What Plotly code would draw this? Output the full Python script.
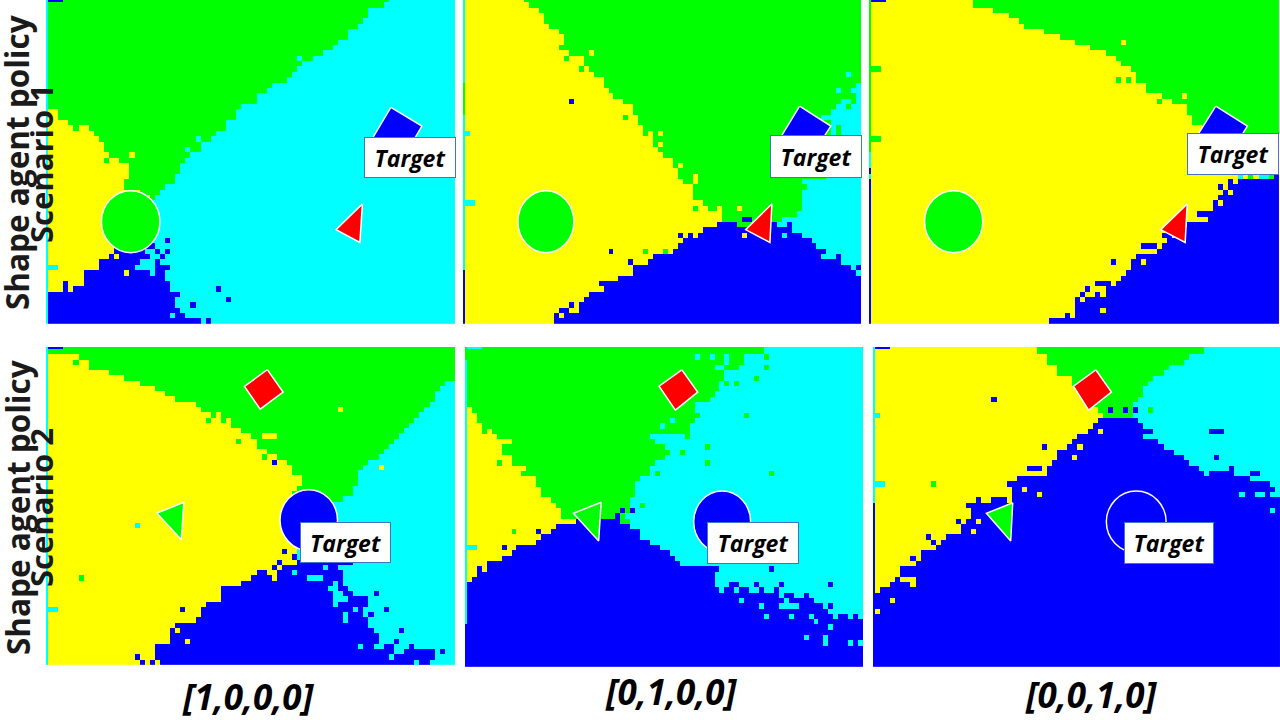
import numpy as np
import plotly.graph_objects as go

# cell classes of the policy maps
CLASS_CODES = {"G": 0, "Y": 1, "C": 2, "B": 3}
CLASS_COLORS = ["#00FF00", "#FFFF00", "#00FFFF", "#0000FF"]

# every row: letter + column where the run ends, last run goes to the edge
# first entry is the thin row cropped at the top of the panel
P1_ROWS = ["B3 G67 C", "G66 C", "G64 C", "G63 C", "G62 C", "G61 C", "G59 C", "G59 C", "G57 C", "G56 C",
           "G54 C", "G52 C", "G50 C", "G49 C", "G48 C", "G47 C", "G44 C", "G42 C", "G41 C", "G41 C",
           "G38 C", "Y2 G38 C", "Y2 G37 C", "Y4 G35 C", "Y8 G34 C", "Y9 G33 C", "Y10 G32 C", "Y11 G30 C", "Y13 G30 C", "Y12 G28 C",
           "Y14 G27 C", "Y16 G26 C", "Y16 G26 C", "Y16 G25 C", "Y15 G25 C", "Y15 G23 C", "Y18 G22 C", "Y20 G21 C", "Y20 C", "Y14 C",
           "Y14 C", "Y14 C", "Y14 C", "Y14 C", "Y14 C", "Y14 C", "Y13 B21 C", "Y13 B20 C", "Y12 B21 C", "Y10 B18 C",
           "Y10 B17 C", "Y7 B20 C", "Y7 B23 C", "Y3 B4 Y7 B24 C", "Y3 B4 Y5 B24 C", "B25 C", "B25 C", "B25 C", "B26 C", "B27 C",
           "B30 C"]
P1_STRIP = "C"
P1_SPECKS = [(44, 23, "B"), (46, 23, "B"), (46, 21, "B"), (46, 19, "C"), (47, 20, "C"), (47, 22, "B"), (48, 21, "B"),
             (49, 21, "B"), (49, 22, "B"), (49, 23, "B"), (50, 21, "B"), (50, 22, "B"), (53, 33, "B"), (55, 35, "B"),
             (56, 28, "B"), (59, 31, "B"), (50, 15, "Y"), (47, 13, "Y"), (28, 16, "Y"), (29, 11, "G"), (27, 11, "G"),
             (27, 12, "G"), (23, 5, "G"), (10, 49, "C"), (20, 37, "C"), (23, 34, "G"), (25, 29, "C"), (27, 27, "C"),
             (49, 0, "C"), (49, 1, "C"), (58, 24, "C"), (53, 24, "C"), (54, 25, "B"), (1, 63, "C"), (16, 42, "G")]

P2_ROWS = ["Y12 G", "Y13 G", "Y15 G", "Y16 G", "Y16 G", "Y17 G", "Y19 G", "Y20 G", "Y20 G", "Y20 G",
           "Y21 G", "Y24 G", "Y24 G", "Y25 G", "Y26 G", "Y27 G", "Y28 G79 C", "Y29 G78 C", "Y30 G79 C", "Y32 G76 C78 G79 C",
           "Y34 G75 C77 G78 C", "Y34 G74 C", "Y35 G72 C", "Y35 G74 C", "Y36 G74 C", "Y36 G74 C", "Y38 G73 C", "Y38 G73 C", "Y39 G73 C", "Y40 G73 C",
           "Y42 G73 C", "Y42 G73 C", "Y43 G73 C", "Y43 G73 C", "Y44 G68 C", "Y46 G69 C", "Y46 G68 C", "Y46 G68 C", "Y48 G68 C", "Y46 G47 Y49 G51 Y52 G68 C",
           "Y52 G67 C", "Y52 G56 B58 G64 C", "Y51 B55 G58 B63 C65 B66 C", "Y48 B66 C", "Y43 B44 Y45 B46 Y47 B68 C", "Y44 B70 C", "Y43 B71 C", "Y42 B73 C", "Y38 B72 C75 B76 C", "Y37 B76 C",
           "Y34 B78 C79 B", "Y34 B79 C", "Y31 B", "Y27 B", "Y28 B", "Y25 B", "Y24 B", "Y21 B22 Y23 B", "Y19 B21 Y23 B", "Y18 B19 Y20 B",
           "Y18 B"]
P2_STRIP = "C16 G22 C51 B"
P2_SPECKS = [(18, 21, "B"), (9, 25, "Y"), (10, 20, "G"), (8, 19, "G"), (12, 23, "G"), (14, 27, "Y"), (21, 32, "G"),
             (24, 37, "Y"), (25, 37, "Y"), (24, 39, "Y"), (26, 39, "Y"), (30, 43, "Y"), (32, 46, "Y"), (33, 46, "Y"),
             (38, 46, "G"), (46, 29, "B"), (46, 36, "G"), (46, 40, "G"), (48, 33, "B"), (38, 55, "Y"), (43, 64, "C"),
             (43, 56, "Y"), (13, 77, "C"), (16, 75, "C"), (16, 78, "C"), (18, 76, "C"), (23, 75, "G"), (24, 75, "G"),
             (37, 1, "C"), (37, 0, "C"), (24, 0, "C")]

P3_ROWS = ["B3 Y20 G", "Y20 G", "Y24 G", "Y27 G", "Y29 G", "Y31 G", "Y34 G", "Y37 G", "Y40 G", "Y43 G",
           "Y46 G", "Y48 G", "Y49 G", "Y51 G", "Y52 G", "Y50 G", "Y54 G", "Y54 G", "Y57 G", "Y59 G",
           "Y62 G", "Y62 G", "Y63 G", "Y63 G", "Y65 G", "Y65 G", "Y", "Y", "Y", "Y",
           "Y", "Y", "Y", "Y72 C73 Y74 G75 Y76 C78 G79 B", "Y70 B71 Y72 B", "Y68 B69 Y70 B", "Y69 B70 Y71 B", "Y68 B", "Y67 B", "Y67 B",
           "Y64 B", "Y66 B", "Y62 B", "Y60 B", "Y57 B59 Y61 B", "Y58 B", "Y53 B56 Y57 B", "Y56 B", "Y52 B", "Y51 B",
           "Y51 B", "Y50 B", "Y49 B", "Y44 B47 Y48 B", "Y42 B43 Y46 B", "Y41 B42 Y44 B45 Y46 B", "Y40 B41 Y42 B", "Y40 B", "Y40 B", "Y38 B39 Y40 B",
           "Y35 B"]
P3_STRIP = "G29 C32 B33 C34 B"
P3_SPECKS = [(37, 68, "Y"), (48, 47, "B"), (48, 53, "Y"), (57, 45, "Y"), (12, 0, "G"), (12, 1, "G"), (25, 0, "G"),
             (25, 1, "G"), (11, 49, "G"), (14, 48, "G"), (14, 51, "Y"), (7, 49, "Y"), (4, 30, "G"), (8, 46, "G"),
             (18, 56, "G"), (17, 61, "Y"), (16, 54, "G"), (13, 53, "G")]

P4_ROWS = ["B3 G", "G", "Y6 G", "Y5 G6 Y8 G", "Y8 G", "Y12 G", "Y15 G", "Y18 G78 C", "Y21 G77 C", "Y23 G76 C",
           "Y25 G76 C", "Y29 G75 C", "Y30 G74 C", "Y32 G73 C", "Y34 G72 C", "Y36 G71 C", "Y38 G70 C", "Y40 G69 C", "Y41 G68 C", "Y41 G67 C",
           "Y43 G66 C", "Y45 G65 C", "Y47 G63 C", "Y48 G62 C", "Y48 G61 C", "Y50 G61 C", "Y50 G61 C", "Y49 G60 C", "Y48 G60 C", "Y48 G58 C",
           "Y47 G56 C", "Y49 C", "Y49 C", "Y49 C", "Y49 C", "Y49 C", "Y49 C", "Y49 C", "Y49 C", "Y49 C",
           "Y49 C", "Y45 B46 Y49 B60 C", "Y44 B45 Y46 B57 C", "Y41 B43 Y45 B58 C", "Y40 B44 Y45 B58 C", "Y38 B56 C57 B58 C", "Y34 B55 C57 B59 C", "Y34 B56 C58 B60 C", "Y34 B56 C59 B63 C", "Y31 B56 C57 B63 C",
           "Y30 B60 C61 B62 C", "Y30 B58 C59 B62 C63 B64 C", "Y29 B58 C59 B63 C", "Y25 B63 C", "Y24 B25 Y26 B64 C", "Y24 B65 C", "Y24 B65 C68 B69 C", "Y21 B61 C62 B64 C66 B68 C71 B72 C", "Y21 B68 C70 B76 C77 B78 C", "Y17 B18 Y21 B67 C68 B76 C",
           "Y18 B19 Y20 B21 Y22 B72 C73 B75 C"]
P4_STRIP = "C"
P4_SPECKS = [(11, 57, "Y"), (21, 44, "B"), (20, 42, "G"), (22, 65, "Y"), (22, 62, "C"), (33, 17, "C"), (43, 6, "G"),
             (49, 0, "C"), (49, 1, "C"), (49, 26, "B"), (55, 27, "Y"), (16, 42, "Y"), (16, 43, "Y"), (16, 44, "Y"),
             (17, 37, "G"), (13, 31, "G"), (12, 33, "Y"), (13, 35, "Y"), (46, 64, "B"), (49, 66, "B"), (53, 69, "B"),
             (38, 46, "B"), (39, 48, "B"), (42, 48, "C"), (43, 51, "C"), (43, 52, "C"), (43, 53, "C"), (41, 54, "C"),
             (50, 58, "C"), (56, 61, "C"), (57, 72, "B")]

P5_ROWS = ["C3 G60 C", "G60 C", "G56 C60 G61 C", "G56 C", "G55 C", "G52 C", "G52 C", "G51 C", "G51 C", "G50 C",
           "G49 C", "G46 C", "Y1 G46 C", "Y2 G47 C", "Y2 G46 C", "Y3 G45 C", "Y5 G45 C", "Y6 G37 C", "Y9 G38 C", "Y7 G40 C",
           "Y7 G41 C", "Y9 G40 C", "Y9 G38 C", "Y12 G37 C", "Y11 G36 C", "Y14 G35 C", "Y14 G34 C", "Y15 G34 C", "Y15 G34 C", "Y17 G33 C",
           "Y18 G33 C", "Y19 G33 C", "Y19 G32 C", "Y22 B30 G33 C", "Y18 B33 C", "Y17 B35 C", "Y15 B35 C", "Y14 B37 C", "Y10 B39 C", "Y9 B41 C",
           "Y7 B42 C", "Y4 B43 C", "Y2 B3 Y4 B51 C", "Y2 B50 C", "Y1 B50 C", "B50 C53 B55 C58 B59 C63 B64 C", "B51 C52 B54 C55 B57 C59 B60 C62 B63 C", "B63 C64 B66 C68 B69 C", "B64 C65 B70 C", "B63 C67 B72 C73 B74 C",
           "B73 C", "B74 C75 B77 C78 B79 C", "B", "B", "B", "B", "B", "B", "B", "B",
           "B"]
P5_STRIP = "G3 C53 B"
P5_SPECKS = [(47, 55, "C"), (48, 59, "C"), (50, 60, "C"), (50, 65, "C"), (50, 69, "C"), (51, 70, "C"), (52, 73, "C"),
             (54, 68, "C"), (54, 72, "C"), (55, 72, "C"), (55, 77, "C"), (55, 79, "C"), (44, 73, "B"), (41, 61, "B"),
             (43, 63, "C"), (12, 56, "G"), (18, 48, "G"), (21, 48, "G"), (23, 61, "G"), (19, 43, "G"), (16, 44, "G"),
             (23, 36, "G"), (23, 38, "G"), (29, 35, "G"), (6, 54, "G"), (6, 52, "G"), (1, 46, "C"), (1, 49, "C"),
             (1, 52, "C"), (3, 50, "C"), (3, 51, "C"), (2, 52, "C"), (5, 58, "G"), (3, 60, "G"), (14, 39, "C"),
             (13, 41, "C"), (30, 31, "B"), (30, 33, "B"), (31, 30, "B"), (32, 30, "B"), (34, 14, "B"), (37, 7, "B"),
             (21, 6, "G"), (34, 9, "G"), (15, 3, "G"), (37, 0, "C"), (37, 1, "C")]

P6_ROWS = ["B3 Y32 G65 C", "Y32 G65 C", "Y34 G62 C", "Y34 G61 C", "Y36 G58 C", "Y36 G57 C", "Y39 G55 C", "Y39 G54 C", "Y40 G53 C", "Y41 G53 C",
           "Y42 G52 C", "Y43 G51 C", "Y44 G51 C", "Y45 G51 C", "Y44 B52 C", "Y43 B53 C", "Y42 B55 C", "Y40 B53 C", "Y39 B56 C", "Y38 B57 C",
           "Y36 B59 C", "Y36 B61 C", "Y35 B62 C", "Y30 B33 Y34 B64 C", "Y34 B71 C", "Y28 B74 C", "Y26 B78 C", "Y27 B79 C", "Y27 B", "Y23 B26 Y27 B",
           "Y18 B", "Y19 B", "Y19 B", "Y18 B", "Y17 B", "Y17 B", "Y14 B", "Y13 B", "Y12 B", "Y9 B",
           "Y9 B", "Y8 B", "Y5 B", "Y5 B", "Y4 B5 Y8 B", "Y3 B7 Y8 B", "Y1 B", "B", "B", "B",
           "B", "B", "B", "B", "B", "B", "B", "B", "B", "B",
           "B"]
P6_STRIP = "C30 B"
P6_SPECKS = [(27, 72, "C"), (27, 75, "C"), (27, 76, "C"), (27, 78, "C"), (27, 79, "C"), (30, 78, "C"), (15, 66, "B"),
             (15, 67, "B"), (15, 68, "B"), (20, 67, "B"), (22, 70, "B"), (23, 74, "B"), (23, 75, "B"), (23, 65, "C"),
             (15, 44, "Y"), (20, 39, "Y"), (18, 40, "Y"), (27, 32, "Y"), (26, 29, "Y"), (32, 20, "Y"), (34, 19, "Y"),
             (47, 3, "Y"), (49, 0, "Y"), (9, 23, "B"), (18, 33, "B"), (29, 18, "B"), (32, 16, "B"), (28, 20, "B"),
             (29, 21, "B"), (39, 7, "B"), (35, 10, "B"), (36, 11, "B"), (11, 46, "B"), (11, 49, "B"), (11, 51, "B"),
             (25, 11, "G"), (11, 54, "G"), (25, 0, "C"), (25, 1, "C"), (12, 0, "C")]

# agents, in grid units (column, row)
P1_CIRCLE = [10.0, 21.5, 34.65, 46.2]
P1_SQUARE = [(66.9, 19.1), (73.0, 22.6), (69.4, 28.4), (63.2, 25.0)]
P1_TRIANGLE = [(61.3, 37.1), (56.1, 41.9), (60.8, 44.3)]
P2_CIRCLE = [10.2, 21.5, 34.65, 46.2]
P2_SQUARE = [(67.1, 18.9), (73.4, 22.6), (69.4, 28.3), (63.2, 24.8)]
P2_TRIANGLE = [(61.5, 37.1), (56.2, 41.9), (61.1, 44.3)]
P3_CIRCLE = [10.0, 21.4, 34.65, 46.2]
P3_SQUARE = [(67.1, 18.9), (73.3, 22.6), (69.5, 28.4), (63.2, 24.8)]
P3_TRIANGLE = [(61.5, 37.1), (56.3, 41.9), (61.1, 44.3)]
P4_CIRCLE = [45.1, 56.4, 26.2, 37.76]
P4_SQUARE = [(42.6, 3.4), (45.7, 7.66), (41.2, 10.9), (38.1, 6.6)]
P4_TRIANGLE = [(26.2, 28.6), (20.9, 30.66), (25.7, 35.7)]
P5_CIRCLE = [45.3, 56.8, 26.3, 37.9]
P5_SQUARE = [(42.9, 3.4), (46.1, 7.6), (41.6, 11.0), (38.3, 6.5)]
P5_TRIANGLE = [(26.6, 28.4), (21.0, 30.5), (26.1, 35.7)]
P6_CIRCLE = [45.2, 57.0, 26.3, 37.9]
P6_SQUARE = [(43.1, 3.4), (46.2, 7.6), (41.7, 11.0), (38.7, 6.5)]
P6_TRIANGLE = [(26.7, 28.5), (21.5, 30.5), (26.3, 35.7)]

ROW_LABELS = ["Shape agent policy", "Shape agent policy"]
SCENARIO_LABELS = ["Scenario 1", "Scenario 2"]
COLUMN_LABELS = ["[1,0,0,0]", "[0,1,0,0]", "[0,0,1,0]"]
TARGET_LABEL = "Target"

W, H = 1280, 720
GRID_COLS, GRID_ROWS = 80, 60


def px_x(x):
    return x / W


def px_y(y):
    return 1 - y / H


def parse_runs(text, length):
    out, start = [], 0
    for token in text.split():
        end = int(token[1:]) if len(token) > 1 else length
        out += [CLASS_CODES[token[0]]] * (end - start)
        start = end
    return out


def build_grid(rows, strip, specks):
    grid = np.array([parse_runs(r, GRID_COLS) for r in rows])
    for r, c, k in specks:
        grid[r + 1, c] = CLASS_CODES[k]
    left = np.array(parse_runs(strip, GRID_ROWS + 1)).reshape(-1, 1)
    return np.hstack([left, grid])


# left, right, top, bottom in pixels
panels = [
    dict(box=(46, 455, 0, 324), rows=P1_ROWS, strip=P1_STRIP, specks=P1_SPECKS, circle=P1_CIRCLE, square=P1_SQUARE,
         triangle=P1_TRIANGLE, colors=("#00FF00", "#0000FF", "#FF0000"), target=(364, 456, 137, 178)),
    dict(box=(463, 861, 0, 324), rows=P2_ROWS, strip=P2_STRIP, specks=P2_SPECKS, circle=P2_CIRCLE, square=P2_SQUARE,
         triangle=P2_TRIANGLE, colors=("#00FF00", "#0000FF", "#FF0000"), target=(770, 862, 135, 178)),
    dict(box=(869, 1279, 0, 324), rows=P3_ROWS, strip=P3_STRIP, specks=P3_SPECKS, circle=P3_CIRCLE, square=P3_SQUARE,
         triangle=P3_TRIANGLE, colors=("#00FF00", "#0000FF", "#FF0000"), target=(1187, 1279, 133, 175)),
    dict(box=(46, 455, 347, 665), rows=P4_ROWS, strip=P4_STRIP, specks=P4_SPECKS, circle=P4_CIRCLE, square=P4_SQUARE,
         triangle=P4_TRIANGLE, colors=("#0000FF", "#FF0000", "#00FF00"), target=(300, 391, 522, 563)),
    dict(box=(465, 863, 347, 667), rows=P5_ROWS, strip=P5_STRIP, specks=P5_SPECKS, circle=P5_CIRCLE, square=P5_SQUARE,
         triangle=P5_TRIANGLE, colors=("#0000FF", "#FF0000", "#00FF00"), target=(707, 799, 522, 564)),
    dict(box=(873, 1280, 347, 667), rows=P6_ROWS, strip=P6_STRIP, specks=P6_SPECKS, circle=P6_CIRCLE, square=P6_SQUARE,
         triangle=P6_TRIANGLE, colors=("#0000FF", "#FF0000", "#00FF00"), target=(1124, 1214, 522, 564)),
]

fig = go.Figure()
layout_axes = {}
annotations = []
shapes = []

for n, p in enumerate(panels, start=1):
    suffix = "" if n == 1 else str(n)
    left, right, top, bottom = p["box"]
    layout_axes["xaxis" + suffix] = dict(domain=[px_x(left), px_x(right)], range=[-0.9, 79.5], visible=False,
                                         anchor="y" + suffix, fixedrange=True)
    layout_axes["yaxis" + suffix] = dict(domain=[px_y(bottom), px_y(top)], range=[59.5, -0.9], visible=False,
                                         anchor="x" + suffix, fixedrange=True)

    fig.add_trace(go.Heatmap(z=build_grid(p["rows"], p["strip"], p["specks"]), x=list(range(-1, GRID_COLS)),
                             y=list(range(-1, GRID_ROWS)), zmin=0, zmax=3, colorscale=CLASS_COLORS, showscale=False,
                             hoverinfo="skip", xaxis="x" + suffix, yaxis="y" + suffix))

    circle_color, square_color, triangle_color = p["colors"]
    for poly, color in ((p["square"], square_color), (p["triangle"], triangle_color)):
        xs = [v[0] for v in poly] + [poly[0][0]]
        ys = [v[1] for v in poly] + [poly[0][1]]
        fig.add_trace(go.Scatter(x=xs, y=ys, mode="lines", fill="toself", fillcolor=color,
                                 line=dict(color="white", width=1.5), hoverinfo="skip", showlegend=False,
                                 xaxis="x" + suffix, yaxis="y" + suffix))

    x0, x1, y0, y1 = p["circle"]
    shapes.append(dict(type="circle", xref="x" + suffix, yref="y" + suffix, x0=x0, x1=x1, y0=y0, y1=y1,
                       fillcolor=circle_color, line=dict(color="white", width=1.5)))

    t_left, t_right, t_top, t_bottom = p["target"]
    annotations.append(dict(text="<b><i>" + TARGET_LABEL + "</i></b>", xref="paper", yref="paper",
                            x=px_x((t_left + t_right) / 2), y=px_y((t_top + t_bottom) / 2), xanchor="center",
                            yanchor="middle", showarrow=False, width=t_right - t_left - 2,
                            height=t_bottom - t_top - 2, bgcolor="white", bordercolor="#4472C4", borderwidth=1,
                            borderpad=0, align="center", valign="middle",
                            font=dict(family="Open Sans", size=23, color="black")))

# row titles sit on top of the left edge of the panels
for label, scenario, y_label, y_scenario in zip(ROW_LABELS, SCENARIO_LABELS, (163, 508), (164, 508)):
    annotations.append(dict(text="<b>" + label + "</b>", xref="paper", yref="paper", x=px_x(17), y=px_y(y_label),
                            xanchor="center", yanchor="middle", showarrow=False, textangle=-90,
                            font=dict(family="Open Sans", size=31.5, color="#1a1a1a")))
    annotations.append(dict(text="<b>" + scenario + "</b>", xref="paper", yref="paper", x=px_x(41), y=px_y(y_scenario),
                            xanchor="center", yanchor="middle", showarrow=False, textangle=-90,
                            font=dict(family="Open Sans", size=31, color="#1a1a1a")))

for label, x, y in zip(COLUMN_LABELS, (248, 671, 1091), (696, 691, 694)):
    annotations.append(dict(text="<b><i>" + label + "</i></b>", xref="paper", yref="paper", x=px_x(x), y=px_y(y),
                            xanchor="center", yanchor="middle", showarrow=False,
                            font=dict(family="Open Sans", size=35, color="black")))

fig.update_layout(width=W, height=H, margin=dict(l=0, r=0, t=0, b=0, pad=0), paper_bgcolor="white",
                  plot_bgcolor="white", showlegend=False, annotations=annotations, shapes=shapes, **layout_axes)

fig.write_html("out.html", config=dict(displayModeBar=False),
               post_script="document.body.style.margin='0';document.body.style.overflow='hidden';")
